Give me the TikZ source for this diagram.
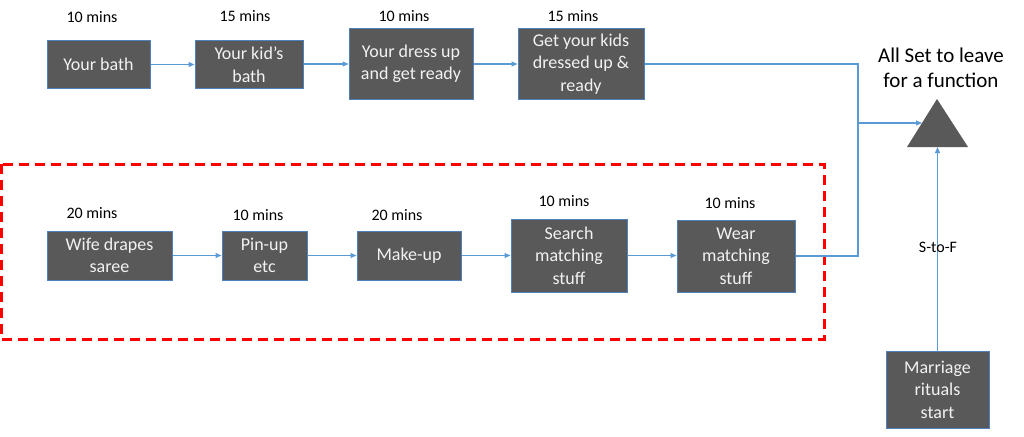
\documentclass[tikz,border=0pt]{standalone}
\usepackage{fontspec}
\setmainfont{Carlito}
\usetikzlibrary{arrows.meta}
\definecolor{boxfill}{HTML}{595959}
\definecolor{boxline}{HTML}{4F81BD}
\definecolor{boxtext}{HTML}{F2F2F2}
\definecolor{conn}{HTML}{5B9BD5}
\tikzset{
  stepbox/.style={draw=boxline, line width=1pt, fill=boxfill, text=boxtext,
    font=\fontsize{18}{22.5}\selectfont, align=center, inner sep=0pt},
  minlabel/.style={font=\fontsize{16}{19}\selectfont, text=black, inner sep=0pt},
  conline/.style={draw=conn, line width=1.1pt},
  conarrow/.style={conline, -{Triangle[length=6pt,width=5pt]}},
}
\begin{document}
\begin{tikzpicture}[x=1pt,y=-1pt]
\useasboundingbox (0,0) rectangle (1024,436);
% dashed frame
\draw[red, line width=3pt, dash pattern=on 10pt off 6pt] (1,164) rectangle (824,339);
% top row
\node[stepbox, minimum width=103pt, minimum height=47pt] (bath) at (98.5,64.5) {Your bath};
\node[stepbox, minimum width=108pt, minimum height=47pt] (kid) at (249,64.5) {Your kid’s\\bath};
\node[stepbox, minimum width=124pt, minimum height=70pt] (dress) at (411,64) {Your dress up\\and get ready};
\node[stepbox, minimum width=126pt, minimum height=70pt] (getkids) at (581,64) {Get your kids\\dressed up \&\\ready};
\node[minlabel] (l1) at (92,17) {10 mins};
\node[minlabel] (l2) at (245,16) {15 mins};
\node[minlabel] (l3) at (404,16) {10 mins};
\node[minlabel] (l4) at (573,16) {15 mins};
% bottom row
\node[stepbox, minimum width=125pt, minimum height=49pt] (wife) at (109.5,255.5) {Wife drapes\\saree};
\node[stepbox, minimum width=85pt, minimum height=49pt] (pin) at (264.5,255.5) {Pin-up\\etc};
\node[stepbox, minimum width=104pt, minimum height=49pt] (make) at (409,255.5) {Make-up};
\node[stepbox, minimum width=116pt, minimum height=73pt] (search) at (569,255.5) {Search\\matching\\stuff};
\node[stepbox, minimum width=118pt, minimum height=72pt] (wear) at (736,256) {Wear\\matching\\stuff};
\node[minlabel] (l5) at (92,213) {20 mins};
\node[minlabel] (l6) at (258,215) {10 mins};
\node[minlabel] (l7) at (397,215) {20 mins};
\node[minlabel] (l8) at (564,201) {10 mins};
\node[minlabel] (l9) at (730,203) {10 mins};
% marriage
\node[stepbox, minimum width=103pt, minimum height=77pt] (marriage) at (937.5,389.5) {Marriage\\rituals\\start};
% triangle goal
\coordinate (apex) at (937,99);
\coordinate (bl) at (907,147);
\coordinate (br) at (968,147);
\coordinate (trileft) at (922,123);
\coordinate (tribot) at (937.5,147);
\coordinate (join) at (858,123);
\fill[boxfill] (apex) -- (bl) -- (br) -- cycle;
\node[font=\fontsize{21}{25}\selectfont, align=center, inner sep=0pt] (goal) at (941,68) {All Set to leave\\for a function};
% connectors
\draw[conarrow] (bath.east) -- (bath.east -| kid.west);
\draw[conarrow] (kid.east |- dress.west) -- (dress.west);
\draw[conarrow] (dress.east) -- (getkids.west);
\draw[conarrow] (getkids.east) -| (join) -- (trileft);
\draw[conline] (wear.east) -| (join);
\draw[conarrow] (wife.east) -- (pin.west);
\draw[conarrow] (pin.east) -- (make.west);
\draw[conarrow] (make.east) -- (search.west);
\draw[conarrow] (search.east) -- (search.east -| wear.west);
\draw[conarrow] (marriage.north) -- (tribot);
\node[minlabel] (stof) at (938,247) {S-to-F};
\end{tikzpicture}
\end{document}
